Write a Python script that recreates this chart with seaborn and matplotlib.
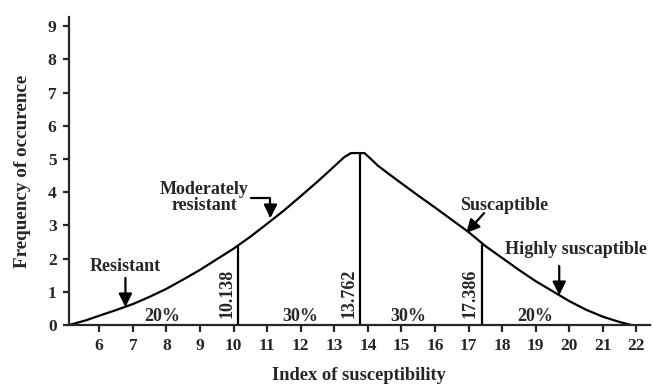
import numpy as np
import pandas as pd
import seaborn as sns
import matplotlib.pyplot as plt

# curve
index_vals = [5.10, 5.6, 6.0, 6.5, 7.0, 7.5, 8.0, 8.5, 9.0, 9.5, 10.0, 10.5, 11.0,
              11.5, 12.0, 12.5, 13.0, 13.3, 13.5, 13.9, 14.05, 14.3, 14.6, 15.0,
              15.5, 16.0, 16.5, 17.0, 17.5, 18.0, 18.5, 19.0, 19.5, 20.0, 20.5,
              21.0, 21.5, 21.85]
freq_vals = [0.0, 0.14, 0.28, 0.45, 0.63, 0.85, 1.09, 1.37, 1.66, 1.98, 2.30,
             2.66, 3.05, 3.45, 3.88, 4.32, 4.78, 5.06, 5.18, 5.18, 5.04, 4.80,
             4.57, 4.27, 3.90, 3.54, 3.17, 2.80, 2.38, 2.02, 1.66, 1.32, 1.02,
             0.72, 0.46, 0.25, 0.09, 0.0]

split_vals = [10.138, 13.762, 17.386]
split_heights = [2.36, 5.18, 2.40]
split_labels = ["10.138", "13.762", "17.386"]

pct_x = [7.88, 12.0, 15.22, 19.0]
pct_labels = ["20%", "30%", "30%", "20%"]

sns.set_style("ticks")
plt.rcParams['font.family'] = ['Liberation Serif', 'DejaVu Serif']
plt.rcParams['font.weight'] = 'bold'
plt.rcParams['axes.labelweight'] = 'bold'

fig = plt.figure(figsize=(6.53, 3.86), dpi=100)
ax = fig.add_axes([0.1057, 0.158, 0.889, 0.798])

df = pd.DataFrame({'index': index_vals, 'freq': freq_vals})
sns.lineplot(data=df, x='index', y='freq', color='black', linewidth=1.6, ax=ax)

for xv, h, lab in zip(split_vals, split_heights, split_labels):
    ax.plot([xv, xv], [0, h], color='black', linewidth=1.6)
    ax.annotate(lab, xy=(xv, 0.96), xytext=(-2, 0), textcoords='offset points',
                rotation=90, ha='right', va='center', fontsize=13)

for xv, lab in zip(pct_x, pct_labels):
    ax.text(xv, 0.27, lab, ha='center', va='center', fontsize=13)

arrow = dict(arrowstyle='-|>', color='black', lw=1.6, mutation_scale=20,
             shrinkA=0, shrinkB=0)

# Resistant
ax.text(6.78, 1.75, "Resistant", ha='center', va='center', fontsize=13)
ax.annotate('', xy=(6.78, 0.54), xytext=(6.78, 1.42), arrowprops=arrow)

# Moderately resistant (elbow arrow)
ax.text(9.13, 3.85, "Moderately\nresistant", ha='center', va='center',
        fontsize=13, linespacing=0.95)
ax.annotate('', xy=(11.1, 3.22), xytext=(10.51, 3.83),
            arrowprops=dict(arrow, connectionstyle='angle,angleA=0,angleB=90,rad=0'))

# Suscaptible
ax.text(18.06, 3.61, "Suscaptible", ha='center', va='center', fontsize=13)
ax.annotate('', xy=(16.93, 2.77), xytext=(17.46, 3.37), arrowprops=arrow)

# Highly suscaptible
ax.text(20.21, 2.26, "Highly suscaptible", ha='center', va='center', fontsize=13)
ax.annotate('', xy=(19.70, 0.90), xytext=(19.70, 1.78), arrowprops=arrow)

ax.set_xlim(5.10, 22.39)
ax.set_ylim(0, 9.28)
ax.set_xticks(range(6, 23))
ax.set_yticks(range(0, 10))
ax.tick_params(axis='x', labelsize=12.5, length=5, width=1.6, direction='out', pad=4)
ax.tick_params(axis='y', labelsize=12.5, length=4, width=1.6, direction='out', pad=5)
for lab in ax.get_xticklabels() + ax.get_yticklabels():
    lab.set_fontweight('bold')

ax.set_xlabel('Index of susceptibility', fontsize=13.3, labelpad=10)
ax.set_ylabel('Frequency of occurence', fontsize=13.8, labelpad=12)

sns.despine(ax=ax)
ax.spines['left'].set_linewidth(1.6)
ax.spines['bottom'].set_linewidth(1.6)

fig.savefig('out.png', dpi=100)
